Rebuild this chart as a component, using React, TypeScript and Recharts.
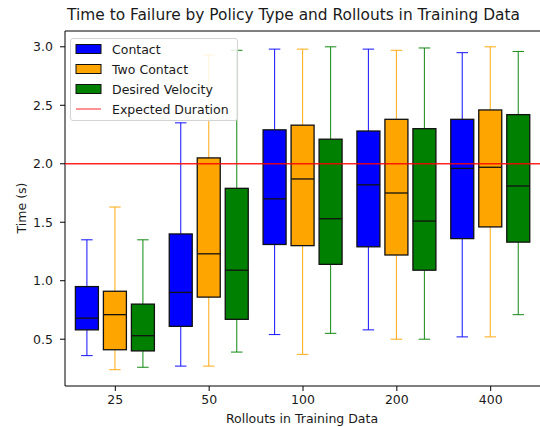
import React from 'react';
import {
  ComposedChart,
  Bar,
  XAxis,
  YAxis,
  ReferenceLine,
  Legend
} from 'recharts';

// five-number summaries per rollout count: [min, q1, median, q3, max]
const categories = ['25', '50', '100', '200', '400'];
const contact = [
  [0.36, 0.58, 0.68, 0.95, 1.35],
  [0.27, 0.61, 0.9, 1.4, 2.35],
  [0.54, 1.31, 1.7, 2.29, 2.98],
  [0.58, 1.29, 1.82, 2.28, 2.98],
  [0.52, 1.36, 1.96, 2.38, 2.95]
];
const twoContact = [
  [0.24, 0.41, 0.71, 0.91, 1.63],
  [0.27, 0.86, 1.23, 2.05, 2.93],
  [0.37, 1.3, 1.87, 2.33, 2.98],
  [0.5, 1.22, 1.75, 2.38, 2.97],
  [0.52, 1.46, 1.97, 2.46, 3.0]
];
const desiredVelocity = [
  [0.26, 0.4, 0.53, 0.8, 1.35],
  [0.39, 0.67, 1.09, 1.79, 2.97],
  [0.55, 1.14, 1.53, 2.21, 3.0],
  [0.5, 1.09, 1.51, 2.3, 2.99],
  [0.71, 1.33, 1.81, 2.42, 2.96]
];
const yTicks = [0.5, 1.0, 1.5, 2.0, 2.5, 3.0];
const yDomain = [0.1, 3.135];
const expectedDuration = 2.0;

const series = [
  { key: 'contact', name: 'Contact', color: '#0000ff' },
  { key: 'twoContact', name: 'Two Contact', color: '#ffa500' },
  { key: 'desiredVelocity', name: 'Desired Velocity', color: '#008000' }
];

const data = categories.map((name, i) => ({
  name,
  contact: contact[i],
  twoContact: twoContact[i],
  desiredVelocity: desiredVelocity[i]
}));

const FONT = 'DejaVu Sans, sans-serif';

// draws whiskers, box and median inside the [min, max] bar rect
const makeBox = (key: string, color: string) => (props: any) => {
  const { x, y, width, height, payload } = props;
  const s: number[] = payload[key];
  const [mn, q1, med, q3, mx] = s;
  const py = (v: number) => y + (height * (mx - v)) / (mx - mn);
  const cx = x + width / 2;
  const cap = width / 4;
  return (
    <g>
      <line x1={cx} x2={cx} y1={py(mx)} y2={py(q3)} stroke={color} strokeOpacity={0.85} strokeWidth={1.1} />
      <line x1={cx} x2={cx} y1={py(q1)} y2={py(mn)} stroke={color} strokeOpacity={0.85} strokeWidth={1.1} />
      <line x1={cx - cap} x2={cx + cap} y1={py(mx)} y2={py(mx)} stroke={color} strokeOpacity={0.85} strokeWidth={1.1} />
      <line x1={cx - cap} x2={cx + cap} y1={py(mn)} y2={py(mn)} stroke={color} strokeOpacity={0.85} strokeWidth={1.1} />
      <rect
        x={x}
        y={py(q3)}
        width={width}
        height={py(q1) - py(q3)}
        fill={color}
        stroke="#111"
        strokeWidth={1.3}
      />
      <line x1={x} x2={x + width} y1={py(med)} y2={py(med)} stroke="#111" strokeWidth={1.3} />
    </g>
  );
};

const LegendBox = () => (
  <div
    style={{
      width: 166,
      height: 81,
      border: '1px solid #d4d4d4',
      borderRadius: 3,
      background: 'rgba(255,255,255,0.85)',
      fontFamily: FONT,
      fontSize: 12.5
    }}
  >
    <svg width={166} height={81}>
      {series.map((s, i) => (
        <g key={s.key}>
          <rect x={5} y={5.5 + i * 20} width={25} height={9} fill={s.color} stroke="#111" />
          <text x={41} y={14.5 + i * 20} fill="#1a1a1a">
            {s.name}
          </text>
        </g>
      ))}
      <line x1={5} x2={30} y1={70} y2={70} stroke="#ff0000" strokeOpacity={0.85} />
      <text x={41} y={74.5} fill="#1a1a1a">
        Expected Duration
      </text>
    </svg>
  </div>
);

const App: React.FC = () => {
  return (
    <div style={{ position: 'fixed', left: 0, top: 0, width: 540, height: 427, background: '#fff' }}>
      <ComposedChart
        width={540}
        height={427}
        data={data}
        margin={{ top: 31, right: -1, bottom: 0, left: 0 }}
        barSize={23}
        barGap={5}
      >
        <text x={293.5} y={20} textAnchor="middle" fontFamily={FONT} fontSize={15.4} fill="#1a1a1a">
          Time to Failure by Policy Type and Rollouts in Training Data
        </text>
        <text
          x={21}
          y={208}
          transform="rotate(-90 21 208)"
          textAnchor="middle"
          dominantBaseline="central"
          fontFamily={FONT}
          fontSize={12.5}
          fill="#1a1a1a"
        >
          Time (s)
        </text>
        <text x={302} y={423} textAnchor="middle" fontFamily={FONT} fontSize={12.5} fill="#1a1a1a">
          Rollouts in Training Data
        </text>
        <XAxis
          dataKey="name"
          height={41}
          padding={{ left: 3.4, right: 3.4 }}
          tickSize={5}
          tickMargin={4}
          axisLine={{ stroke: '#000' }}
          tickLine={{ stroke: '#000' }}
          tick={{ fill: '#1a1a1a', fontSize: 12.5, fontFamily: FONT }}
        />
        <YAxis
          width={65}
          type="number"
          domain={yDomain}
          allowDataOverflow
          ticks={yTicks}
          tickFormatter={(v: number) => v.toFixed(1)}
          tickSize={5}
          tickMargin={7}
          axisLine={{ stroke: '#000' }}
          tickLine={{ stroke: '#000' }}
          tick={{ fill: '#1a1a1a', fontSize: 12.5, fontFamily: FONT }}
        />
        {series.map((s) => (
          <Bar
            key={s.key}
            name={s.name}
            dataKey={(d: any) => [d[s.key][0], d[s.key][4]]}
            fill={s.color}
            shape={makeBox(s.key, s.color)}
            isAnimationActive={false}
          />
        ))}
        <ReferenceLine
          y={expectedDuration}
          stroke="#ff0000"
          strokeOpacity={0.85}
          strokeWidth={1.3}
          zIndex={1000}
        />
        <ReferenceLine y={yDomain[1]} stroke="#000" strokeWidth={1} zIndex={1000} />
        <Legend
          layout="horizontal"
          verticalAlign="middle"
          align="center"
          content={() => <LegendBox />}
          wrapperStyle={{ left: 70, top: 38, width: 168, height: 83 }}
        />
      </ComposedChart>
    </div>
  );
};

export default App;
